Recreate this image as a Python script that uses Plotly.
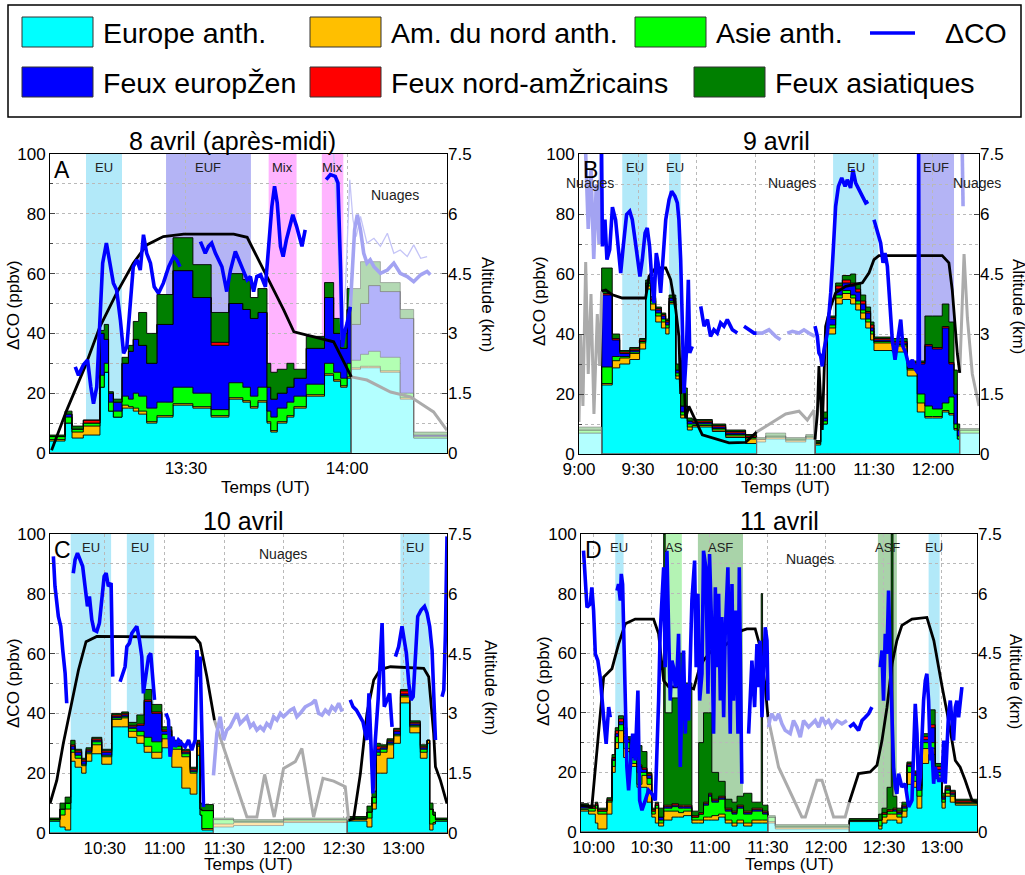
import plotly.graph_objects as go

# ---------------------------------------------------------------------------
# DATA  (time = minutes after midnight UT, ΔCO in ppbv, altitude in km)
# Stacked contributions: values hold from each time to the next one
# (last time = right end of the panel).
# ---------------------------------------------------------------------------

# ---------------- Panel A : 8 avril (après-midi) ----------------
A_t = [784.7, 787.5, 788.8, 790.9, 794.0, 794.8, 795.6, 796.5, 798.1, 799.3,
       800.2, 801.2, 802.7, 804.6, 807.6, 811.3, 814.7, 818.0, 820.6, 822.0,
       823.4, 825.1, 825.8, 827.0, 828.8, 830.1, 832.4, 835.8, 837.5, 838.8,
       840.0, 840.8, 842.5, 844.0, 846.2, 849.9, 852.4, 858.6]
A_eu = [4, 10, 5, 6, 22, 27, 14, 12, 15, 15, 14, 13, 10, 12, 16, 15, 12, 18, 17, 15,
        17, 10, 7, 10, 12, 15, 19, 26, 24, 22, 25, 28, 28.5, 28.5, 27, 18, 5]
A_na = [0.5, 0, 2, 3, 0, 0, 0, 0, 1, 0.5, 1, 1, 0.5, 0.5, 0.5, 0.5, 0.5, 0.5, 0.5, 0.5,
        0.5, 0.5, 0.5, 0.5, 0.5, 0.5, 0.5, 0.5, 0.5, 0.5, 0.5, 0.5, 0.5, 0.5, 0.5, 0.5, 0]
A_as = [1, 2, 1, 1, 4, 3, 3, 2, 3, 2.5, 5, 5, 4.5, 4.5, 5.5, 4.5, 2, 5, 4.5, 3.5,
        4.5, 3.5, 4.5, 4.5, 4.5, 3.5, 3.5, 3.5, 2.5, 2.5, 4.5, 2.5, 4, 5, 4.5, 1.5, 0.5]
A_euf = [0, 1, 0, 0, 14, 8, 3, 3, 11, 16, 18, 17, 15, 26, 39, 32, 21.5, 26.5, 26, 26,
         25, 8, 6, 5, 5, 6, 12, 22, 13, 10, 18, 12, 17, 22, 22, 25, 0.5]
A_naf = [0, 0, 0, 1, 0, 0, 0, 0, 0, 0, 0, 0, 0, 0, 0, 0, 1, 0, 0, 0,
         0, 0, 0, 0, 0, 0, 0, 0, 0, 0, 0, 0, 0, 0, 0, 0, 0]
A_asf = [0.5, 1, 1, 0, 1, 5, 0.5, 1, 2, 2, 6, 11, 10, 10, 11, 11, 10, 10, 10, 7,
         8, 8, 9, 8, 8, 3, 4, 5, 5, 5, 7, 12, 14, 8, 3, 3, 1]
A_clouds = [[840.8, 858.6]]

A_co_t = [789.4, 790.0, 790.9, 791.7, 792.3, 792.8, 793.4, 794.0, 794.5, 795.2,
          795.9, 796.5, 797.1, 797.8, 798.4, 799.0, 799.6, 800.2, 800.9, 801.5,
          802.1, 802.7, 803.4, 804.1, 804.9, 805.8, 806.8, 807.7, 808.3, 808.9, None,
          812.7, 813.6, 814.2, 814.8, 815.5, 816.1, 816.7, 817.6, 818.3, 819.2,
          819.8, 820.4, 821.4, 822.0, 822.6, 823.2, 823.9, 824.8, 825.4, 826.0,
          826.5, 827.0, 827.6, 828.1, 828.7, 829.4, 829.9, 830.6, 831.2, 831.6, 832.2, None,
          836.1, 836.9, 837.8, 838.3, 838.8, 839.1, 839.5, 840.0, 840.6]
A_co = [28.8, 26.0, 29.4, 31.1, 22.1, 16.5, 22.1, 42.2, 63.5, 70.2,
        62.3, 56.8, 54.5, 44.5, 33.3, 35.5, 48.9, 62.3, 64.6, 61.2,
        73.0, 66.8, 63.5, 55.6, 53.4, 56.8, 62.3, 65.7, 64.6, 62.3, None,
        70.7, 66.8, 69.1, 70.2, 66.8, 64.6, 62.3, 54.0, 61.2, 67.4,
        64.6, 62.3, 57.9, 59.0, 54.0, 59.0, 59.6, 55.6, 69.1, 82.5,
        89.2, 83.6, 69.1, 65.7, 71.3, 76.9, 79.7, 75.8, 71.3, 69.1, 74.6, None,
        91.4, 93.1, 92.5, 90.3, 61.2, 35.5, 40.0, 43.4, 48.9]
A_co_cloud_t = [840.6, 840.9, 841.4, 841.9, 842.5, 843.1, 843.7, 844.3, 845.0, 846.2,
                847.5, 848.7, 849.9, 851.2, 852.4, 853.7, 854.9, 855.5]
A_co_cloud = [48.9, 60.1, 74.6, 79.7, 74.6, 66.8, 63.5, 64.6, 62.3, 60.1,
              61.2, 63.5, 60.1, 59.0, 57.3, 59.6, 60.7, 59.6]
A_co_thin_t = [837.5, 838.1, 838.9, 839.7, 840.5, 841.1, 841.7, 842.5, 843.7, 845.0,
               846.2, 847.5, 848.7, 849.9, 851.2, 852.4, 853.7, 854.9]
A_co_thin = [100, 78, 37.8, 55.6, 91.4, 78, 72.4, 79.1, 70.2, 71.8,
             69.1, 73.5, 66.8, 67.9, 65.7, 69.6, 65.1, 65.7]
A_alt_t = [785.0, 787.8, 791.2, 794.0, 797.1, 800.2, 802.7, 805.8, 809.6, 818.9,
           821.4, 825.1, 828.2, 830.1, 832.5, 837.5, 840.8]
A_alt = [0.07, 1.07, 2.16, 3.17, 4.01, 4.76, 5.22, 5.43, 5.49, 5.49,
         5.41, 4.42, 3.59, 3.04, 2.96, 2.79, 1.91]
A_alt_cloud_t = [840.8, 843.7, 848.1, 851.8, 856.1, 858.6]
A_alt_cloud = [1.91, 1.83, 1.53, 1.41, 1.03, 0.57]
A_bands = [["EU", 791.4, 798.1], ["EUF", 806.3, 822.1], ["Mix", 825.4, 830.6], ["Mix", 835.3, 839.3]]
A_nuages = [[849.0, 86.4]]
A_ticks = [810, 840]
A_ticktext = ["13:30", "14:00"]

# ---------------- Panel B : 9 avril ----------------
B_t = [540.0, 551.5, 556.9, 560.7, 565.8, 570.8, 573.9, 576.4, 579.0, 581.9,
       584.1, 585.8, 589.2, 591.7, 595.1, 597.6, 607.8, 614.6, 624.7, 630.3,
       634.9, 645.1, 655.3, 660.0, 662.9, 666.3, 670.5, 673.9, 678.1, 680.7,
       683.2, 685.8, 688.3, 690.0, 699.3, 706.9, 712.0, 715.9, 719.7, 724.7,
       728.1, 730.7, 732.4, 733.6, 743.4]
B_eu = [7, 23, 28.7, 30, 31.5, 35, 55, 48, 44, 42, 40, 50, 25, 12, 8, 9, 7.5, 5.5, 3.5, 4,
        5, 4, 5, 3, 10, 40, 50, 51.5, 50, 48, 45, 42, 38, 34.5, 34, 26, 14, 12, 12, 14,
        13, 8, 5, 7]
B_na = [0, 0.5, 2.4, 2, 2, 2, 1, 2, 2, 2, 2, 0.5, 1, 1, 1, 0.5, 0.5, 0.5, 1.5, 1,
        0.5, 0.5, 0.5, 0.5, 0, 2, 2, 2, 2, 2, 2, 2, 2, 2.5, 2, 2, 3, 0.5, 0.5, 0.5,
        0.5, 0.5, 0, 0]
B_as = [1, 5.5, 1.4, 0.5, 0.5, 0.5, 1, 1, 1, 1, 1, 0.5, 1, 1, 1, 0.5, 0.5, 0.5, 0.5, 0,
        0.5, 0.5, 0.5, 0.5, 1, 1, 1, 1, 1, 1, 1, 1, 1, 0.5, 0.5, 0.5, 3, 3.5, 2.5, 2.5,
        5.5, 1.5, 1, 1]
B_euf = [0, 24, 5.5, 1, 0.5, 0, 0, 0.5, 1, 1, 1, 1, 1, 2, 1, 0.5, 0.5, 0.5, 0, 0,
         0, 0, 0, 0, 1, 2, 2, 2.5, 3, 3, 2, 2, 1, 0.5, 0.5, 1.5, 10, 20, 20, 25,
         11, 10, 2, 0]
B_naf = [0, 0.5, 0.5, 0.5, 0.5, 0.5, 0, 0.5, 0.5, 0.5, 0.5, 0, 0, 0, 0, 0.5, 0.5, 0.5, 0.5, 0,
         0, 0, 0, 0, 0, 0.5, 1, 1, 1, 1, 1, 0.5, 1, 0.5, 0.5, 0.5, 0.5, 0.5, 0.5, 0.5,
         0.5, 0, 0, 0]
B_asf = [1, 8.5, 1.5, 0.5, 0.5, 0.5, 1, 0.5, 0.5, 0.5, 0.5, 1, 2, 6, 1, 0.5, 0.5, 0.5, 0.5, 0.5,
         1, 0.5, 0.5, 0.5, 2, 0.5, 1, 1.5, 3, 2, 2, 1.5, 1, 0.5, 1, 0.5, 0.5, 9.5, 10.5, 7.5,
         13.5, 8, 2, 0.5]
B_clouds = [[540.0, 551.5], [630.3, 660.0], [733.6, 743.4]]

B_co_t = [551.5, 551.9, 553.2, 554.2, 555.6, 557.0, 558.6, 560.0, 561.2, 562.5,
          564.2, 565.8, 567.1, 568.5, 569.7, 571.0, 572.2, 573.6, 574.7, 575.9,
          576.9, 578.1, 579.3, 580.2, 581.5, 582.7, 584.1, 585.8, 587.1, 588.8,
          590.0, 590.8, 591.7, 592.5, 593.4, 594.6, 595.6, 596.3, 597.6, None,
          601.9, 603.6, 605.3, 606.9, 608.6, 610.3, 612.0, 613.7, 615.4, 618.0, 620.5, None,
          623.9, 626.4, 629.0, 630.3, None,
          660.0, 661.2, 662.0, 662.9, 663.7, 664.6, 666.3, 668.0, 669.2, 670.5,
          671.9, 673.6, 675.3, 676.4, 678.1, 679.3, 680.7, 682.4, 684.1, 685.8, 687.1, None,
          690.0, 691.7, 693.4, 694.6, 695.6, 696.8, 697.6, 699.3, 700.7, 702.4,
          703.6, 704.7, 706.1, 707.8, 709.5, 711.2, 712.4, 712.7, 713.1]
B_co = [100, 69.2, 78.1, 64.8, 68.1, 82.3, 78.1, 68.1, 60.3, 69.2,
        79.8, 80.9, 78.1, 71.4, 64.8, 59.2, 64.8, 73.7, 75.3, 69.2,
        59.2, 50.3, 67.0, 63.7, 53.7, 64.8, 78.1, 84.8, 87.6, 85.9,
        83.7, 78.1, 64.8, 44.8, 20.3, 33.7, 58.1, 33.7, 35.9, None,
        49.2, 42.6, 44.8, 39.2, 41.4, 40.3, 43.7, 42.6, 44.8, 41.4, 40.3, None,
        42.6, 41.4, 40.3, 40.3, None,
        42.6, 39.2, 33.7, 32.6, 29.2, 34.8, 40.3, 53.7, 67.0, 82.6,
        89.2, 92.0, 89.2, 91.4, 88.7, 94.8, 90.3, 88.1, 85.9, 83.7, 84.2, None,
        78.1, 73.7, 70.3, 63.7, 67.0, 62.6, 53.7, 38.1, 31.4, 39.2,
        44.8, 35.9, 33.7, 29.2, 31.4, 28.1, 27.0, 100, 29.2]
B_co_cloud_t = [543.4, 544.7, 546.1, 547.5, 548.8, 550.2, 551.2, None,
                630.3, 633.2, 636.6, 640.0, 642.5, None,
                645.9, 648.5, 651.9, 654.4, 656.9, 660.0, None, 734.9, 735.3]
B_co_cloud = [100, 75, 95, 65, 90, 70, 100, None,
              40.3, 40.3, 41.4, 39.2, 38.1, None,
              40.3, 40.9, 40.3, 41.4, 40.3, 39.2, None, 100, 82.6]
B_alt_t = [551.5, 553.6, 557.0, 562.0, 573.9, 575.6, 579.0, 584.1, 586.6, 589.2,
           590.8, 591.7, 592.9, 594.2, 595.9, 602.7, 616.3, 624.7, 630.3, None,
           660.0, 661.2, 662.0, 663.7, 665.4, 668.0, 670.5, 675.6, 684.1, 687.5,
           690.0, 692.5, 724.7, 728.1, 729.8, 732.4, 733.6]
B_alt = [4.07, 4.1, 3.98, 3.9, 3.9, 4.44, 4.65, 4.65, 4.36, 3.61,
         2.94, 1.5, 2.6, 0.9, 1.19, 0.48, 0.28, 0.29, 0.55, None,
         0.36, 1.0, 2.2, 0.6, 3.19, 3.69, 4.03, 4.19, 4.28, 4.53,
         4.86, 4.96, 4.96, 4.78, 4.1, 2.5, 2.03]
B_alt_cloud_t = [540.0, 540.8, 542.0, 543.4, 544.7, 546.1, 547.6, 549.3, 550.5, 551.5, None,
                 630.3, 636.6, 645.1, 651.9, 656.1, 659.5, 660.0, None,
                 733.6, 735.8, 737.5, 740.0, 743.4]
B_alt_cloud = [0.8, 3.0, 1.2, 4.8, 2.0, 4.0, 1.0, 3.5, 2.2, 4.07, None,
               0.55, 0.75, 1.0, 1.07, 0.85, 1.1, 0.36, None,
               2.03, 5.0, 3.4, 2.0, 1.2]
B_bands = [["EU", 562.0, 574.7], ["EU", 585.8, 591.7], ["EU", 669.2, 692.2], ["EUF", 712.0, 730.7]]
B_nuages = [[545.4, 90.3], [648.5, 90.3], [742.5, 90.3]]
B_ticks = [540, 570, 600, 630, 660, 690, 720]
B_ticktext = ["9:00", "9:30", "10:00", "10:30", "11:00", "11:30", "12:00"]

# ---------------- Panel C : 10 avril ----------------
C_t = [602.5, 607.5, 610.1, 612.9, 615.1, 618.4, 620.6, 623.5, 628.5, 633.5,
       638.5, 641.9, 646.1, 649.8, 653.6, 658.7, 663.7, 668.7, 672.9, 676.3,
       677.9, 678.8, 684.6, 694.7, 719.8, 751.7, 761.7, 764.2, 766.4, 768.4,
       771.8, 775.1, 778.5, 783.2, 788.5, 791.9, 793.2, 794.9, 796.1, 801.9]
C_eu = [4, 2, 1, 24, 22, 20, 24, 26.5, 23, 35.5, 35.5, 32, 30, 27, 25, 28.5, 22, 15, 13, 26,
        6, 1, 2, 2.5, 3.5, 4, 2, 8, 20, 20, 25, 30, 43.5, 33.5, 25, 30, 1, 3, 4]
C_na = [0, 4, 7, 3, 3, 2.5, 2.5, 3, 2.5, 2.5, 3, 2, 2.5, 2, 2, 3, 6, 10.5, 7, 3,
        0, 0.5, 1, 1, 0.5, 0.5, 3, 2, 6, 7, 4.5, 2.5, 2, 2, 2, 1, 2, 0.5, 0]
C_as = [0.5, 2, 2, 1, 1, 0.5, 0.5, 1, 0.5, 0.5, 0.5, 1, 1.5, 3, 3.5, 1.5, 1, 1, 0.5, 0.5,
        2, 6, 1.5, 0.5, 0.5, 0.5, 2, 2, 1, 1, 0.5, 0.5, 0.5, 0.5, 1, 0, 5, 2.5, 0.5]
C_euf = [0, 0, 0, 1, 1, 1, 0.5, 0.5, 1, 0.5, 0.5, 0.5, 2, 12, 9.5, 1, 1, 0.5, 0.5, 0.5,
         0, 0, 0, 0, 0, 0, 0, 0, 1, 0.5, 0.5, 1, 0.5, 0.5, 0.5, 0, 0, 0, 0]
C_naf = [0, 0, 0, 0.5, 0.5, 0.5, 0.5, 0.5, 0.5, 0.5, 0.5, 0.5, 0.5, 0.5, 0.5, 0.5, 0.5, 0.5, 0.5, 0.5,
         0, 0, 0, 0, 0, 0, 0, 0, 1, 0.5, 0.5, 0.5, 1, 0.5, 0.5, 0, 0, 0, 0]
C_asf = [0.5, 2, 2, 1.5, 0.5, 0.5, 0.5, 0.5, 0.5, 0.5, 0.5, 1, 3, 3.5, 2.5, 1, 0.5, 0.5, 0.5, 0.5,
         2, 2, 0.5, 0.5, 0.5, 0.5, 2, 2, 1, 0.5, 0.5, 0.5, 0.5, 0.5, 0.5, 0, 2, 1, 0.5]
C_clouds = [[684.6, 751.7]]

C_co_t = [604.2, 605.0, 606.7, 607.9, 608.9, 610.1, 610.9, None,
          614.2, 615.1, 616.3, 617.6, 618.9, 620.1, 621.3, 622.3, 623.5, 624.6,
          626.0, 627.3, 628.5, 629.7, 630.7, 631.8, 633.2, 634.0, None,
          637.7, 639.1, 640.2, 641.1, 642.4, 643.6, 644.9, 646.1, 647.4, 648.6,
          649.4, 650.6, 652.0, 653.1, 654.1, 655.0, None,
          660.8, 662.0, 662.8, 664.2, 665.4, 667.0, 668.7, 670.4, 672.1, 673.7,
          675.4, 676.3, 677.1, 677.9, 678.8, 679.6, None,
          753.3, 754.7, 756.4, 758.0, 759.7, 760.9, 761.7, 762.7, 763.7, 764.7,
          765.9, 767.3, 769.3, 770.4, 771.8, 773.1, 774.3, None,
          776.0, 777.6, 779.3, 780.5, 781.5, 782.7, 783.8, 784.9, 786.0, 787.2,
          788.9, 790.6, 791.9, 793.2, 794.4, 795.2, 796.1, None,
          799.4, 800.3, 801.1, 801.9]
C_co = [92.5, 82.5, 72.4, 69.1, 61.2, 53.4, 43.4, None,
        86.9, 91.4, 93.6, 91.4, 89.2, 82.5, 75.8, 79.1, 71.3, 67.9,
        67.4, 70.2, 78.0, 85.8, 86.9, 82.5, 83.6, 52.3, None,
        50.6, 53.4, 55.6, 62.3, 63.5, 66.8, 67.9, 69.1, 64.6, 59.0,
        46.7, 52.3, 59.0, 60.1, 53.4, 44.5, None,
        40.0, 37.8, 25.5, 32.2, 28.8, 31.1, 29.9, 28.8, 31.1, 27.7,
        31.1, 61.2, 52.3, 59.0, 33.3, 8.7, None,
        44.5, 42.2, 41.1, 39.4, 37.2, 33.3, 31.1, 46.7, 31.1, 13.2,
        31.1, 44.5, 70.2, 42.2, 44.5, 46.7, 35.5, None,
        59.0, 62.3, 69.1, 64.6, 60.1, 50.1, 44.5, 45.6, 57.9, 72.4,
        74.6, 75.8, 73.5, 69.1, 61.2, 42.2, 31.1, None,
        45.6, 47.8, 66.8, 99.2]
C_co_cloud_t = [684.6, 686.3, 688.0, 689.7, 691.3, 693.0, 694.7, 696.4, 698.0, 699.7,
                701.4, 703.1, 704.7, 706.4, 708.1, 709.8, 711.4, 713.1, 714.8, 716.5,
                718.2, 719.8, 721.5, 723.2, 724.9, 726.5, 728.2, 730.7, 732.4, 734.1,
                735.7, 737.4, 739.1, 740.8, 742.5, 744.1, 745.8, 747.5, 749.2]
C_co_cloud = [19.3, 33.3, 38.9, 31.1, 34.4, 35.5, 37.8, 40.0, 36.6, 37.8,
              38.9, 35.5, 36.6, 34.4, 35.5, 34.4, 36.6, 35.5, 38.9, 37.8,
              40.0, 38.9, 40.0, 41.1, 41.7, 38.9, 40.0, 42.2, 42.8, 43.4,
              44.5, 40.0, 39.4, 41.1, 40.0, 42.2, 41.1, 43.4, 40.6]
C_alt_t = [602.5, 605.9, 609.2, 612.9, 616.8, 620.6, 626.0, 675.4, 677.9, 681.3,
           684.6, 685.1, None, 752.5, 755.0, 758.4, 761.7, 765.1, 768.4, 773.5,
           790.2, 792.7, 795.2, 796.1, 798.6, 801.9]
C_alt = [0.74, 1.32, 2.25, 3.17, 4.09, 4.8, 4.93, 4.91, 4.76, 3.92,
         3.0, 2.83, None, 0.32, 0.36, 1.49, 3.0, 3.84, 4.1, 4.17,
         4.13, 3.92, 2.5, 1.66, 1.32, 0.74]
C_alt_cloud_t = [685.1, 693.0, 701.4, 706.4, 710.3, 715.1, 719.8, 725.7, 729.0, 734.9,
                 739.6, 745.0, 750.8, 752.5]
C_alt_cloud = [2.83, 1.66, 0.4, 0.4, 1.47, 0.4, 1.62, 1.79, 2.12, 0.4,
               1.37, 1.3, 1.16, 0.32]
C_bands = [["EU", 612.9, 633.2], ["EU", 641.1, 654.8], ["EU", 778.5, 793.1]]
C_nuages = [[719.5, 93.4]]
C_ticks = [630, 660, 690, 720, 750, 780]
C_ticktext = ["10:30", "11:00", "11:30", "12:00", "12:30", "13:00"]

# ---------------- Panel D : 11 avril ----------------
D_t = [593.5, 597.4, 600.9, 602.2, 606.9, 609.5, 611.2, 612.9, 615.5, 617.2,
       618.9, 622.4, 625.0, 627.6, 630.1, 631.9, 633.6, 636.2, 637.0, 640.5,
       643.9, 646.5, 650.8, 654.3, 656.8, 659.4, 661.1, 664.6, 668.0, 671.5,
       674.1, 677.5, 681.8, 686.6, 687.3, 690.1, 693.9, 732.1, 747.3, 749.0,
       751.6, 753.8, 754.7, 756.7, 759.3, 761.9, 764.5, 767.1, 769.6, 773.1,
       776.5, 780.0, 781.7, 784.3, 786.9, 798.1]
D_eu = [7, 6, 3, 1, 6, 20, 28, 30, 25, 27, 22, 15, 15, 10, 5, 3, 2, 4, 4, 5,
        5, 5.5, 3, 3, 4, 4, 4, 5, 3, 2, 3, 2, 3, 3, 3, 3, 1, 3.5, 1, 3,
        4, 4, 4, 3, 5, 16, 15, 8, 23, 26, 18, 8, 12, 10, 9]
D_na = [0.5, 1, 5, 5, 4, 2, 2, 4, 3, 1, 1, 1, 4, 6, 1, 5, 1, 3, 3, 2,
        1.5, 1.5, 1, 1, 1, 1, 1.5, 1, 1, 1, 1, 1, 1, 1, 1, 0.5, 0.5, 0.3, 1, 2,
        2, 2, 2, 2, 2, 4, 2, 4, 5, 2, 1, 2, 1, 2, 0.5]
D_as = [0.5, 1, 1, 1, 0.5, 2, 2, 2, 2, 2, 2, 4, 1, 2, 1, 1, 1, 1, 1, 1.5,
        1.5, 1, 1, 2, 4, 7, 4.5, 5, 3, 3, 4, 3, 3, 3, 2, 1.5, 0.5, 0.2, 2, 1,
        1, 1, 1, 1, 1, 2, 2, 2, 2, 2, 1, 1, 1, 0.5, 0.5]
D_euf = [0.5, 0, 0, 0, 0, 0.5, 1, 1, 2, 1, 1, 2, 1, 1, 0, 0, 1, 0.5, 0.5, 0.5,
         0.5, 0.5, 0, 0, 0.5, 0.5, 0.5, 0.5, 0.5, 0.5, 0.5, 0.5, 0.5, 0.5, 0.5, 0, 0, 0, 0, 0,
         0, 0, 0.5, 0.5, 0.5, 0.5, 0.5, 0.5, 1, 5, 1, 0.5, 0.5, 0.5, 0]
D_naf = [0.5, 0.5, 0.5, 0.5, 0.5, 0.5, 1, 1, 1, 0.5, 0.5, 0.5, 0.5, 0.5, 0.5, 0.5, 0, 0.5, 0.5, 0.5,
         0.5, 0.5, 0.5, 0.5, 0.5, 0.5, 0.5, 0.5, 0.5, 0.5, 0.5, 0.5, 0.5, 0.5, 0.5, 0, 0, 0, 0, 0.5,
         0.5, 0.5, 0.5, 0.5, 0.5, 0.5, 0.5, 0.5, 1, 1, 1, 0.5, 0.5, 0.5, 0.5]
D_asf = [0.5, 0.5, 0.5, 0.5, 0.5, 1, 1, 1, 2, 0.5, 5.5, 6.5, 5.5, 0.5, 0.5, 0.5, 3, 91, 31, 35.5,
         51, 41, 1.5, 23.5, 30, 27, 9, 5, 3, 3, 3, 6, 2, 72, 2, 0.5, 0.5, 0.5, 2, 1.5,
         7.5, 92.5, 4, 1, 1, 0.5, 0.5, 0.5, 1, 5, 1, 1, 0.5, 0.5, 0.5]
D_clouds = [[690.1, 732.1]]

D_co_t = [594.8, 596.6, 598.3, 599.1, 600.0, 600.9, 602.2, 603.4, 605.2, 606.5, 607.8, 608.6, None,
          612.1, 612.9, 613.8, 614.3, 615.0, 615.5, 616.4, 617.2, 618.1, 618.9,
          620.2, 621.5, 622.9, 623.8, 625.0, 626.7, 628.4, 630.1, 631.9, 633.6,
          634.4, 635.3, 636.2, 637.0, 637.9, 638.8, 639.6, 640.5, 641.3, 642.2,
          643.1, 643.9, 644.8, 645.6, 646.5, 647.4, 648.2, 649.1, 650.0, 650.8,
          652.2, 653.0, 653.9, 654.8, 656.0, 656.8, 658.0, 659.1, 659.9, 661.1,
          662.0, 662.9, 663.7, 664.6, 665.5, 666.3, 667.2, 668.0, 669.4, 670.6,
          671.5, 672.3, 673.5, 674.6, 675.3, 676.0, 676.6, None,
          680.1, 681.8, 683.2, 684.4, 685.3, 686.1, 687.0, 687.8, 688.7, 689.6, 690.1, None,
          732.1, 734.3, 736.9, 738.7, 740.4, 742.1, 743.8, None,
          748.1, 749.0, 749.8, 750.7, 751.6, 752.4, 753.3, 754.2, 755.0, 755.9,
          756.7, 757.6, 759.3, 761.0, 762.8, 764.5, 766.2, 767.1, 767.9, 768.8,
          769.6, 770.5, 771.4, 772.2, 773.1, 774.0, 774.8, 775.7, 776.5, 778.3,
          780.0, 780.9, 781.7, 782.6, 783.4, 784.3, 785.2, 786.0, 786.9, 787.7,
          788.6, 789.4, 790.3]
D_co = [94.4, 75.4, 76.5, 82.1, 74.3, 59.8, 57.5, 52.0, 38.5, 29.6, 41.9, 38.5, None,
        81.0, 83.2, 77.7, 86.6, 83.2, 66.5, 48.6, 21.8, 14.0, 21.8,
        33.0, 24.0, 47.5, 10.6, 7.3, 10.6, 14.0, 12.8, 10.6, 44.1,
        66.5, 77.7, 88.8, 55.3, 94.4, 66.5, 44.1, 57.5, 55.3, 48.6,
        53.1, 66.5, 21.8, 44.1, 60.9, 33.0, 49.7, 37.4, 55.3, 77.7,
        91.1, 55.3, 79.9, 44.1, 53.1, 94.4, 88.8, 46.4, 93.3, 66.5,
        33.0, 82.1, 55.3, 79.9, 44.1, 72.1, 38.5, 66.5, 88.8, 33.0,
        83.2, 44.1, 74.3, 33.0, 88.8, 44.1, 16.2, None,
        33.0, 57.5, 41.9, 63.1, 48.6, 64.2, 38.5, 52.0, 68.7, 64.2, 44.1, None,
        35.2, 36.3, 34.1, 37.4, 38.5, 39.7, 41.9, None,
        55.3, 60.9, 44.1, 66.5, 59.8, 81.0, 57.5, 39.7, 21.8, 15.1,
        12.8, 19.6, 15.1, 16.2, 8.4, 10.6, 43.0, 33.0, 14.0, 18.4,
        33.0, 44.1, 50.8, 53.1, 44.1, 24.0, 28.5, 16.2, 21.8, 17.3,
        17.3, 30.7, 16.2, 33.0, 39.7, 44.1, 38.5, 30.7, 41.9, 44.1,
        38.5, 44.1, 48.6]
D_co_cloud_t = [690.4, 691.3, 692.1, 693.9, 695.6, 697.3, 699.0, 701.6, 703.3, 705.1,
                706.8, 708.5, 711.1, 712.8, 714.5, 716.3, 718.0, 719.7, 721.4, 723.1,
                725.7, 728.3, 730.9]
D_co_cloud = [35.2, 38.5, 39.7, 37.4, 39.7, 36.3, 34.1, 33.0, 37.4, 35.2,
              31.8, 37.4, 35.2, 36.3, 37.4, 35.2, 38.5, 36.3, 37.4, 35.2,
              37.4, 36.3, 37.4]
D_alt_t = [593.5, 599.1, 605.2, 609.5, 612.9, 616.4, 621.5, 631.0, 633.6, 636.2,
           638.8, 649.1, 651.7, 654.3, 656.8, 661.1, 668.0, 676.6, 679.2, 683.5,
           686.1, 688.7, 690.1, None,
           732.1, 736.9, 742.9, 746.4, 749.0, 751.6, 754.2, 756.7, 759.3, 764.5,
           772.2, 775.8, 780.1, 783.4, 786.9, 789.4, 792.0, 795.5, 798.1]
D_alt = [0.67, 0.63, 3.90, 4.11, 4.73, 5.24, 5.36, 5.36, 4.99, 3.81,
         3.65, 3.65, 3.60, 4.06, 4.32, 4.57, 4.7, 5.07, 5.11, 5.11,
         4.65, 3.65, 2.89, None,
         0.75, 1.47, 1.51, 1.68, 2.3, 3.14, 4.23, 4.82, 5.20, 5.36,
         5.40, 4.82, 3.65, 2.81, 1.8, 1.63, 1.30, 0.80, 0.75]
D_alt_cloud_t = [690.1, 695.6, 707.6, 709.4, 715.4, 718.0, 724.0, 730.0, 732.1]
D_alt_cloud = [2.89, 1.63, 0.38, 0.38, 1.30, 1.30, 0.38, 0.38, 0.75]
D_bands = [["EU", 611.2, 615.5], ["AS", 637.0, 645.6], ["ASF", 653.9, 677.2],
           ["ASF", 746.9, 756.7], ["EU", 773.1, 778.8]]
D_nuages = [[711.9, 91.6]]
D_ticks = [600, 630, 660, 690, 720, 750, 780]
D_ticktext = ["10:00", "10:30", "11:00", "11:30", "12:00", "12:30", "13:00"]

TITLES = ["8 avril (après-midi)", "9 avril", "10 avril", "11 avril"]
LETTERS = ["A", "B", "C", "D"]
COMP_NAMES = ["Europe anth.", "Am. du nord anth.", "Asie anth.",
              "Feux europŽen", "Feux nord-amŽricains", "Feux asiatiques"]
COMP_COLORS = ["#00ffff", "#ffbf00", "#00ff00", "#0000ff", "#ff0000", "#007f00"]
COMP_FADED = ["#b3ffff", "#ffe6ad", "#b3ffb3", "#b3b3fa", "#ffb3b3", "#b3d9b3"]
BAND_COLORS = {"EU": "#b2e9f9", "EUF": "#b4b4f5", "Mix": "#ffb4ff",
               "AS": "#b4f3b4", "ASF": "#a9d3a9"}

# ---------------------------------------------------------------------------
# LAYOUT HELPERS (page pixels -> paper coordinates)
# the page margin is removed by a small post script, so the figure
# covers the whole 1025 x 875 window
# ---------------------------------------------------------------------------
W, H, OFF = 1025, 875, 0
FONT = "Liberation Sans, Arial, sans-serif"


def fx(X):
    return (X - OFF) / W


def fy(Y):
    return 1 - (Y - OFF) / H


# plot-area boxes in page pixels: left, right, top, bottom
BOXES = [(50, 447, 154, 453), (579, 979, 154, 454), (50, 447, 534, 833), (581, 977, 534, 832)]
XRANGES = [[A_t[0], A_t[-1]], [B_t[0], B_t[-1]], [C_t[0], C_t[-1]], [D_t[0], D_t[-1]]]
TITLE_POS = [(232, 141), (776, 141), (243, 521), (779, 521)]
XLAB_POS = [(265, 487), (785, 487), (248, 864), (789, 864)]
YLAB_POS = [(14, 305), (539, 301), (13, 683), (543, 681)]
Y2LAB_POS = [(488, 304), (1018, 306), (491, 687), (1016, 681)]

panels = [
    dict(t=A_t, comps=[A_eu, A_na, A_as, A_euf, A_naf, A_asf], clouds=A_clouds,
         co_t=A_co_t, co=A_co, coc_t=A_co_cloud_t, coc=A_co_cloud,
         thin_t=A_co_thin_t, thin=A_co_thin,
         alt_t=A_alt_t, alt=A_alt, altc_t=A_alt_cloud_t, altc=A_alt_cloud,
         bands=A_bands, nuages=A_nuages, ticks=A_ticks, ticktext=A_ticktext),
    dict(t=B_t, comps=[B_eu, B_na, B_as, B_euf, B_naf, B_asf], clouds=B_clouds,
         co_t=B_co_t, co=B_co, coc_t=B_co_cloud_t, coc=B_co_cloud,
         thin_t=None, thin=None,
         alt_t=B_alt_t, alt=B_alt, altc_t=B_alt_cloud_t, altc=B_alt_cloud,
         bands=B_bands, nuages=B_nuages, ticks=B_ticks, ticktext=B_ticktext),
    dict(t=C_t, comps=[C_eu, C_na, C_as, C_euf, C_naf, C_asf], clouds=C_clouds,
         co_t=C_co_t, co=C_co, coc_t=C_co_cloud_t, coc=C_co_cloud,
         thin_t=None, thin=None,
         alt_t=C_alt_t, alt=C_alt, altc_t=C_alt_cloud_t, altc=C_alt_cloud,
         bands=C_bands, nuages=C_nuages, ticks=C_ticks, ticktext=C_ticktext),
    dict(t=D_t, comps=[D_eu, D_na, D_as, D_euf, D_naf, D_asf], clouds=D_clouds,
         co_t=D_co_t, co=D_co, coc_t=D_co_cloud_t, coc=D_co_cloud,
         thin_t=None, thin=None,
         alt_t=D_alt_t, alt=D_alt, altc_t=D_alt_cloud_t, altc=D_alt_cloud,
         bands=D_bands, nuages=D_nuages, ticks=D_ticks, ticktext=D_ticktext),
]


def axname(prefix, i):
    return f"{prefix}axis" if i == 1 else f"{prefix}axis{i}"


def axref(prefix, i):
    return prefix if i == 1 else f"{prefix}{i}"


def ptext(X, Y, text, size, angle=0, xanchor="center"):
    """Text placed at a page-pixel position (centre anchored)."""
    return dict(x=fx(X), y=fy(Y), xref="paper", yref="paper", text=text,
                showarrow=False, xanchor=xanchor, yanchor="middle",
                textangle=angle, font=dict(size=size))


fig = go.Figure()
layout = dict(
    template="none",
    width=W, height=H, margin=dict(l=0, r=0, t=0, b=0, pad=0, autoexpand=False),
    paper_bgcolor="white", plot_bgcolor="white", showlegend=False,
    font=dict(family=FONT, size=17, color="black"),
)
shapes = []
annotations = []
GRID = "#b9b9b9"

for k, p in enumerate(panels, start=1):
    xr = axref("x", k)
    yb, ya, yc = 3 * k - 2, 3 * k - 1, 3 * k
    L, R, T, B = BOXES[k - 1]

    # ----- stacked source contributions (clear + cloudy parts) -----
    t = p["t"]
    n = len(t) - 1
    flags = [any(c0 <= t[i] < c1 for c0, c1 in p["clouds"]) for i in range(n)]
    for part in ("clear", "cloud"):
        for j, vals in enumerate(p["comps"]):
            if part == "clear":
                yv = [0 if flags[i] else vals[i] for i in range(n)]
                col, lc = COMP_COLORS[j], "black"
            else:
                yv = [vals[i] if flags[i] else 0 for i in range(n)]
                col, lc = COMP_FADED[j], "rgba(110,110,110,0.55)"
            yv.append(yv[-1])
            fig.add_trace(go.Scatter(
                x=t, y=yv, mode="lines", stackgroup=f"p{k}{part}",
                line=dict(shape="hv", color=lc, width=0.9), fillcolor=col,
                xaxis=xr, yaxis=axref("y", yb), hoverinfo="skip",
                name=COMP_NAMES[j]))

    # ----- altitude (right axis) -----
    fig.add_trace(go.Scatter(x=p["altc_t"], y=p["altc"], mode="lines",
                             line=dict(color="#ababab", width=3),
                             xaxis=xr, yaxis=axref("y", ya), hoverinfo="skip"))
    fig.add_trace(go.Scatter(x=p["alt_t"], y=p["alt"], mode="lines",
                             line=dict(color="black", width=2.8),
                             xaxis=xr, yaxis=axref("y", ya), hoverinfo="skip"))

    # ----- ΔCO -----
    if p["thin_t"] is not None:
        fig.add_trace(go.Scatter(x=p["thin_t"], y=p["thin"], mode="lines",
                                 line=dict(color="#c4c4f7", width=1.3),
                                 xaxis=xr, yaxis=axref("y", yc), hoverinfo="skip"))
    fig.add_trace(go.Scatter(x=p["coc_t"], y=p["coc"], mode="lines",
                             line=dict(color="#a3a3f2", width=3.6),
                             xaxis=xr, yaxis=axref("y", yc), hoverinfo="skip"))
    fig.add_trace(go.Scatter(x=p["co_t"], y=p["co"], mode="lines",
                             line=dict(color="#0000ff", width=3.6),
                             xaxis=xr, yaxis=axref("y", yc), hoverinfo="skip",
                             name="ΔCO"))

    # ----- axes -----
    layout[axname("x", k)] = dict(
        domain=[fx(L), fx(R)], anchor=axref("y", yb), range=XRANGES[k - 1],
        tickvals=p["ticks"], ticktext=p["ticktext"], ticks="", automargin=False,
        showgrid=True, gridcolor=GRID, griddash="dot", gridwidth=1,
        showline=True, linecolor="black", linewidth=1, mirror=True,
        zeroline=False, tickfont=dict(size=17))
    layout[axname("y", yb)] = dict(
        domain=[fy(B), fy(T)], anchor=xr, range=[0, 100], automargin=False,
        tickvals=[0, 20, 40, 60, 80, 100], ticks="inside", ticklen=5,
        showgrid=True, gridcolor=GRID, griddash="dot", gridwidth=1,
        minor=dict(dtick=10, showgrid=True, gridcolor=GRID, griddash="dot",
                   ticks="inside", ticklen=3),
        showline=True, linecolor="black", linewidth=1, mirror=True,
        zeroline=False, tickfont=dict(size=17))
    layout[axname("y", ya)] = dict(
        overlaying=axref("y", yb), anchor=xr, side="right", range=[0, 7.5],
        tickvals=[0, 1.5, 3, 4.5, 6, 7.5], ticktext=["0", "1.5", "3", "4.5", "6", "7.5"],
        ticks="inside", ticklen=5, showgrid=False, zeroline=False, automargin=False,
        showline=False, tickfont=dict(size=17))
    layout[axname("y", yc)] = dict(
        overlaying=axref("y", yb), anchor=xr, range=[0, 100], visible=False,
        showgrid=False, zeroline=False, automargin=False)

    # ----- air-mass bands -----
    for lab, t0, t1 in p["bands"]:
        shapes.append(dict(type="rect", xref=xr, yref=f"{axref('y', yb)} domain",
                           x0=t0, x1=t1, y0=0, y1=1, layer="below",
                           fillcolor=BAND_COLORS[lab], line=dict(width=0)))
        annotations.append(dict(x=(t0 + t1) / 2, y=95.5, xref=xr, yref=axref("y", yb),
                                text=lab, showarrow=False, xanchor="center",
                                yanchor="middle", font=dict(size=13, color="#222")))
    for tx, ty in p["nuages"]:
        annotations.append(dict(x=tx, y=ty, xref=xr, yref=axref("y", yb), text="Nuages",
                                showarrow=False, xanchor="center", yanchor="middle",
                                font=dict(size=14, color="#222")))

    # ----- texts -----
    annotations.append(dict(x=0.005, y=0.995, xref=f"{xr} domain",
                            yref=f"{axref('y', yb)} domain", text=LETTERS[k - 1],
                            showarrow=False, xanchor="left", yanchor="top",
                            font=dict(size=23)))
    annotations.append(ptext(*TITLE_POS[k - 1], TITLES[k - 1], 25))
    annotations.append(ptext(*XLAB_POS[k - 1], "Temps (UT)", 17))
    annotations.append(ptext(*YLAB_POS[k - 1], "ΔCO (ppbv)", 17, angle=-90))
    annotations.append(ptext(*Y2LAB_POS[k - 1], "Altitude (km)", 17, angle=90))

# ---------------------------------------------------------------------------
# LEGEND (drawn box at the top)
# ---------------------------------------------------------------------------
shapes.append(dict(type="rect", xref="paper", yref="paper", x0=fx(8), x1=fx(1021),
                   y0=fy(117), y1=fy(5), line=dict(color="black", width=1.5),
                   fillcolor="rgba(0,0,0,0)"))
LEG_SWATCH_X = [22, 310, 635, 22, 310, 694]
LEG_ROW_Y = [32, 32, 32, 82, 82, 82]
for j in range(6):
    x0, yc_ = LEG_SWATCH_X[j], LEG_ROW_Y[j]
    shapes.append(dict(type="rect", xref="paper", yref="paper",
                       x0=fx(x0), x1=fx(x0 + 71), y0=fy(yc_ + 15), y1=fy(yc_ - 15),
                       fillcolor=COMP_COLORS[j], line=dict(color="#333", width=1)))
    annotations.append(ptext(x0 + 79, yc_ + 1, COMP_NAMES[j], 28.5, xanchor="left"))
shapes.append(dict(type="line", xref="paper", yref="paper", x0=fx(870), x1=fx(915),
                   y0=fy(33), y1=fy(33), line=dict(color="#0000ff", width=3.5)))
annotations.append(ptext(943, 33, "ΔCO", 28.5, xanchor="left"))

layout["shapes"] = shapes
layout["annotations"] = annotations
fig.update_layout(**layout)
fig.write_html("out.html",
               config={"displayModeBar": False},
               post_script="document.body.style.margin='0';"
                           "document.body.style.overflow='hidden';")
